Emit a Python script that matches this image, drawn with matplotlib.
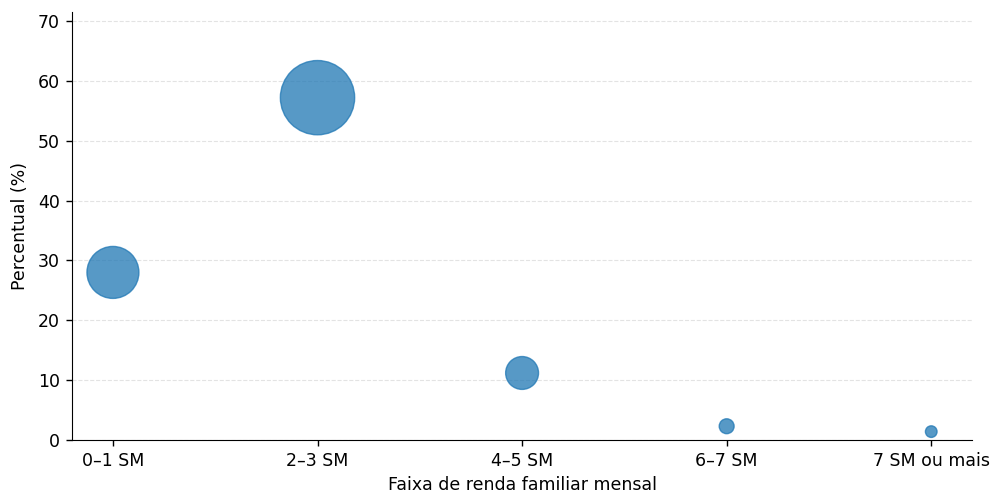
import matplotlib
matplotlib.use("Agg")
import matplotlib.pyplot as plt

categories = ["0–1 SM", "2–3 SM", "4–5 SM", "6–7 SM", "7 SM ou mais"]
percent = [28.0, 57.2, 11.2, 2.3, 1.4]

fig = plt.figure(figsize=(9.92, 4.93), dpi=100)
ax = fig.add_axes([0.0726, 0.1075, 0.9074, 0.868])
x = list(range(len(categories)))
ax.scatter(x, percent, s=[p * 50 for p in percent], color="tab:blue", alpha=0.75,
           edgecolors="tab:blue", linewidths=1, zorder=3)
ax.set_xticks(x)
ax.set_xticklabels(categories, fontsize=12.5)
ax.tick_params(axis="y", labelsize=12.5)
ax.tick_params(axis="both", length=4.2, pad=4.5, width=1)
ax.set_xlim(-0.2, 4.2)
ax.set_ylim(0, max(percent) * 1.25)
ax.set_yticks(range(0, 71, 10))
ax.grid(axis="y", linestyle="--", alpha=0.35, zorder=0)
ax.spines["top"].set_visible(False)
ax.spines["right"].set_visible(False)
ax.set_xlabel("Faixa de renda familiar mensal", fontsize=12.5, labelpad=4)
ax.set_ylabel("Percentual (%)", fontsize=12.5, labelpad=6)
fig.savefig("out.png", dpi=100)
